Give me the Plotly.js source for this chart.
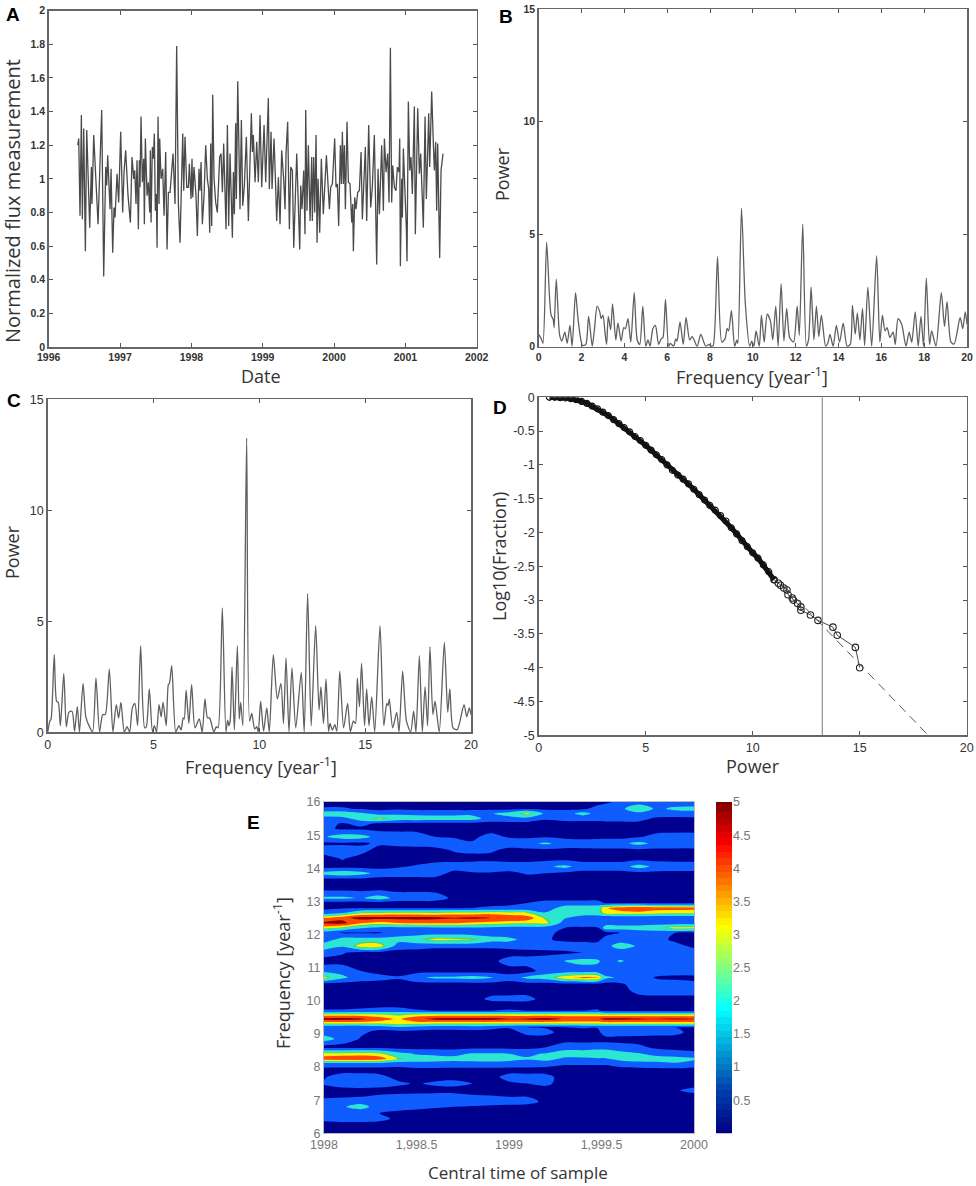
<!DOCTYPE html>
<html>
<head>
<meta charset="utf-8">
<script src="https://cdn.plot.ly/plotly-3.0.1.min.js"></script>
<style>body{margin:0;background:#fff}</style>
</head>
<body>
<div id="chart" style="width:976px;height:1186px"></div>
<script>
// Panel A: flux time series
const fluxDates = [1996.407,1996.421,1996.439,1996.458,1996.472,1996.491,1996.514,1996.533,1996.575,1996.598,1996.607,1996.631,1996.692,1996.743,1996.771,1996.799,1996.813,1996.827,1996.860,1996.874,1996.897,1996.916,1996.930,1996.958,1996.981,
  1997.009,1997.037,1997.056,1997.079,1997.112,1997.145,1997.168,1997.192,1997.206,1997.224,1997.238,1997.257,1997.271,1997.280,1997.294,1997.313,1997.332,1997.341,1997.355,1997.379,1997.397,1997.416,1997.425,1997.435,1997.453,1997.467,1997.481,1997.495,1997.509,1997.519,1997.533,1997.547,1997.556,1997.575,1997.598,1997.617,1997.640,1997.659,1997.678,1997.701,1997.743,1997.771,1997.794,1997.818,1997.841,1997.879,1997.893,1997.911,1997.935,1997.958,1997.972,1997.995,
  1998.009,1998.019,1998.037,1998.065,1998.084,1998.107,1998.121,1998.136,1998.154,1998.178,1998.201,1998.224,1998.243,1998.257,1998.271,1998.285,1998.299,1998.318,1998.341,1998.364,1998.397,1998.416,1998.435,1998.453,1998.467,1998.486,1998.505,1998.523,1998.542,1998.575,1998.589,1998.603,1998.621,1998.631,1998.650,1998.664,1998.682,1998.701,1998.720,1998.743,1998.771,1998.799,1998.822,1998.841,1998.855,1998.869,1998.893,1998.916,1998.939,1998.963,1998.986,
  1999.019,1999.042,1999.079,1999.093,1999.117,1999.131,1999.159,1999.178,1999.196,1999.220,1999.243,1999.266,1999.294,1999.313,1999.327,1999.350,1999.374,1999.393,1999.416,1999.435,1999.477,1999.519,1999.533,1999.551,1999.575,1999.593,1999.603,1999.621,1999.640,1999.664,1999.687,1999.696,1999.715,1999.729,1999.748,1999.762,1999.776,1999.799,1999.822,1999.850,1999.893,1999.935,1999.953,1999.977,
  2000.009,2000.028,2000.047,2000.065,2000.089,2000.103,2000.117,2000.131,2000.145,2000.159,2000.182,2000.201,2000.224,2000.248,2000.262,2000.271,2000.290,2000.308,2000.332,2000.355,2000.379,2000.397,2000.439,2000.458,2000.486,2000.514,2000.537,2000.565,2000.598,2000.617,2000.636,2000.668,2000.692,2000.706,2000.729,2000.752,2000.771,2000.790,2000.808,2000.822,2000.846,2000.869,2000.888,2000.911,2000.921,2000.930,2000.949,2000.958,2000.972,
  2001.014,2001.023,2001.042,2001.061,2001.079,2001.098,2001.126,2001.140,2001.173,2001.196,2001.215,2001.252,2001.276,2001.294,2001.313,2001.327,2001.341,2001.369,2001.393,2001.407,2001.425,2001.439,2001.453,2001.467,2001.481,2001.500,2001.528];
const fluxValues = [1.20,1.24,0.78,1.38,0.76,1.30,0.57,1.29,0.71,1.07,0.85,1.26,0.73,1.41,0.42,1.07,0.96,1.14,0.82,1.06,0.56,0.83,0.77,1.03,0.86,
  1.28,0.80,1.04,1.17,0.90,0.74,1.13,1.00,1.05,0.85,1.11,0.70,1.11,0.95,1.37,0.98,1.12,0.73,1.24,0.90,0.98,0.80,1.17,0.74,1.19,1.12,1.27,0.81,0.91,0.59,1.37,0.85,1.24,1.00,1.06,0.78,1.16,0.58,0.92,0.92,1.15,0.85,1.79,0.85,0.62,1.27,0.93,1.25,0.95,0.95,1.09,0.88,
  1.12,0.89,1.07,0.90,0.66,1.06,0.93,1.10,0.73,0.90,1.20,1.00,0.94,0.68,1.21,0.72,1.50,1.00,0.86,0.80,1.13,1.15,0.92,1.21,1.04,0.70,1.32,0.72,1.15,0.65,1.04,0.79,1.33,0.88,1.58,1.20,0.82,1.35,0.84,0.96,1.25,0.75,1.05,1.39,1.16,1.26,0.98,1.22,0.98,1.38,0.95,
  1.32,0.98,1.48,0.94,1.28,0.94,1.24,1.00,0.75,1.01,0.73,1.17,1.00,0.82,1.15,1.34,0.70,1.07,1.05,0.59,1.15,0.58,0.96,0.82,1.05,0.67,1.41,0.81,1.20,0.75,1.13,0.75,1.13,0.80,1.26,0.62,1.00,0.68,1.12,0.79,1.14,0.82,0.95,0.97,
  1.24,0.95,0.97,0.72,1.20,0.97,1.28,0.97,1.20,0.82,1.34,0.98,0.97,0.74,0.85,0.57,0.89,0.82,0.92,0.93,1.16,0.76,1.19,0.75,1.32,0.83,0.95,1.26,0.49,1.06,0.79,1.20,0.81,1.24,1.04,1.15,0.86,1.78,0.86,1.08,0.95,0.93,1.07,1.04,1.24,0.48,1.00,0.77,1.18,
  0.70,0.51,1.46,1.05,1.13,0.91,1.43,0.67,1.42,1.03,1.15,0.71,1.37,0.88,1.16,1.39,1.07,1.52,1.20,1.05,1.22,0.81,1.21,0.80,0.53,1.05,1.15];

// Panel B: periodogram, first series
const freqB = [0,0.12,0.2,0.37,0.5,0.58,0.68,0.72,0.82,0.98,1.08,1.22,1.33,1.46,1.56,1.72,1.82,1.95,2.05,2.2,2.33,2.5,2.6,2.73,2.85,2.92,3.0,3.1,3.17,3.25,3.36,3.45,3.6,3.7,3.85,3.97,4.05,4.17,4.3,4.46,4.6,4.72,4.86,5.0,5.1,5.2,5.33,5.45,5.6,5.72,5.8,5.92,6.07,6.15,6.3,6.4,6.46,6.6,6.75,6.88,7.05,7.17,7.4,7.57,7.8,7.95,8.07,8.15,8.35,8.55,8.7,8.8,8.87,9.0,9.15,9.25,9.3,9.47,9.65,9.85,9.95,10.05,10.15,10.3,10.4,10.53,10.67,10.82,10.93,11.07,11.18,11.32,11.45,11.58,11.72,11.9,12.07,12.17,12.33,12.5,12.6,12.72,12.85,12.97,13.08,13.2,13.4,13.5,13.6,13.75,13.9,14.05,14.22,14.4,14.55,14.65,14.78,14.88,15.0,15.12,15.22,15.37,15.55,15.78,15.93,16.05,16.17,16.27,16.4,16.55,16.65,16.78,16.95,17.15,17.3,17.42,17.58,17.72,17.85,17.97,18.1,18.25,18.35,18.55,18.8,18.95,19.07,19.25,19.4,19.68,19.8,19.92,20];
const powerB = [0.55,0.35,0.15,4.65,2.3,1.4,1.2,0.85,3.0,0.5,0.25,0.65,0.15,0.95,0.02,2.4,1.4,0.4,0.05,0.1,1.35,0.02,0.75,1.8,1.55,1.25,1.4,0.6,0.1,1.35,0.75,1.9,0.3,1.05,0.25,0.85,0.8,1.25,0.2,2.4,0.3,0.1,1.8,0.02,0.3,0.02,0.8,0.95,0.1,0.35,0.4,2.1,0.02,0.15,0.02,0.35,0.25,1.1,0.1,1.3,0.3,0.45,0.02,0.55,0.02,0.1,0.02,0.05,4.0,0.2,0.35,0.8,0.7,1.6,0.02,0.3,0.15,6.15,1.9,0.02,0.25,0.02,0.7,0.02,1.4,0.2,1.45,1.15,0.3,1.8,0.02,2.8,0.25,1.7,0.4,0.2,1.8,0.5,5.45,0.02,0.3,2.65,0.3,1.8,0.45,1.4,0.02,0.15,0.55,0.02,0.95,0.2,1.05,0.02,0.1,1.85,0.55,1.5,0.3,1.7,0.05,2.65,0.02,4.05,0.2,1.4,0.7,0.85,0.4,0.65,0.1,1.25,1.0,0.02,0.65,0.2,1.55,0.02,1.35,0.02,3.05,0.1,0.7,0.02,2.4,0.9,2.0,0.2,0.12,1.3,0.8,1.55,1.0];

// Panel C: periodogram, second series
const freqC = [0,0.1,0.16,0.31,0.42,0.5,0.6,0.76,0.88,1.0,1.15,1.27,1.40,1.5,1.67,1.8,1.95,2.12,2.28,2.45,2.6,2.72,2.91,3.08,3.24,3.35,3.46,3.62,3.75,3.87,4.0,4.12,4.25,4.39,4.58,4.66,4.80,4.95,5.04,5.14,5.26,5.36,5.45,5.6,5.70,5.75,5.86,6.05,6.2,6.3,6.4,6.45,6.54,6.67,6.80,6.96,7.16,7.3,7.43,7.55,7.65,7.85,7.97,8.05,8.25,8.42,8.5,8.56,8.62,8.71,8.82,8.96,9.05,9.12,9.22,9.40,9.54,9.64,9.78,9.88,9.95,10.06,10.2,10.35,10.47,10.66,10.85,11.02,11.14,11.26,11.4,11.54,11.72,11.98,12.12,12.28,12.45,12.66,12.82,12.91,13.03,13.15,13.27,13.34,13.45,13.57,13.66,13.80,13.98,14.17,14.3,14.44,14.54,14.63,14.73,14.83,14.97,15.07,15.18,15.31,15.45,15.70,15.88,16.02,16.08,16.14,16.3,16.49,16.6,16.77,16.95,17.15,17.29,17.4,17.56,17.7,17.83,17.95,18.06,18.2,18.30,18.5,18.74,18.9,19.0,19.15,19.35,19.67,19.8,19.92,20];
const powerC = [0,0.5,0.6,3.5,1.4,1.35,0.3,2.65,0.25,0.9,0.95,0.05,1.15,0.02,2.2,0.7,0.3,0.02,2.45,0.02,0.8,0.8,2.85,0.02,1.25,0.65,1.35,0.02,0.25,0.02,1.1,1.3,0.3,3.9,0.2,0.25,1.95,0.02,0.3,0.02,1.25,0.7,1.35,0.3,2.15,2.2,3.0,0.02,0.3,0.1,0.65,0.6,1.9,0.4,2.15,0.2,0.6,0.02,1.5,0.65,0.65,0.02,0.25,0.2,5.6,0.02,0.55,0.3,0.5,2.95,0.1,3.9,0.6,1.35,0.3,13.25,0.5,0.85,0.15,0.25,0.02,1.4,0.05,1.1,0.02,3.5,1.5,2.2,0.4,3.35,0.02,2.9,0.2,2.7,0.02,6.25,0.3,4.8,1.0,2.05,0.4,2.4,0.05,0.4,0.1,0.35,0.05,2.75,0.2,1.3,0.02,0.5,0.4,2.45,1.15,3.1,0.3,1.95,0.3,1.6,0.02,4.8,0.3,1.3,1.2,1.5,0.2,0.9,0.02,2.75,0.5,0.02,0.95,0.02,3.45,0.02,2.05,0.3,3.85,0.8,1.4,0.02,4.05,0.9,1.95,0.2,0.12,1.25,0.7,1.1,0.8];

// Panel D: sorted power against log fraction
const rankPower = [0.5,0.75,1,1.25,1.5,1.75,2,2.25,2.5,2.75,3,3.25,3.5,3.75,4,4.25,4.5,4.75,5,5.25,5.5,5.75,6,6.25,6.5,6.75,7,7.25,7.5,7.75,8,8.25,8.5,8.75,9,9.25,9.5,9.75,10,10.25,10.5,10.75,11];
const rankLog = [0,0,-0.005,-0.01,-0.02,-0.035,-0.06,-0.09,-0.13,-0.17,-0.22,-0.27,-0.33,-0.39,-0.45,-0.51,-0.58,-0.64,-0.71,-0.78,-0.85,-0.92,-1.0,-1.08,-1.15,-1.21,-1.28,-1.36,-1.44,-1.52,-1.6,-1.67,-1.75,-1.83,-1.93,-2.02,-2.12,-2.21,-2.3,-2.38,-2.48,-2.58,-2.7];
const tailPower = [11,11.2,11.3,11.45,11.6,11.65,11.85,11.9,12.1,12.25,12.25,12.7,13.05,13.75,13.95,14.8,15];
const tailLog = [-2.7,-2.75,-2.78,-2.82,-2.85,-2.92,-2.97,-3.0,-3.05,-3.1,-3.15,-3.22,-3.3,-3.4,-3.52,-3.7,-4.0];
const fitPower = [11.5,18.2];
const fitLog = [-2.8,-5];
const cutoffPower = [13.25,13.25];
const cutoffLog = [0,-5];
const logTicks = [0,-0.5,-1,-1.5,-2,-2.5,-3,-3.5,-4,-4.5,-5];
const logLabels = ['0','-0.5','-1','-1.5','-2','-2.5','-3','-3.5','-4','-4.5','-5'];

// Panel E: sliding window spectrum, one row per frequency
const sampleTimes = [1998,1998.1,1998.2,1998.3,1998.4,1998.5,1998.6,1998.7,1998.8,1998.9,1999,1999.1,1999.2,1999.3,1999.4,1999.48,1999.52,1999.6,1999.7,1999.8,1999.9,2000];
const sampleFreqs = [6,6.3,6.45,6.6,6.8,6.95,7.1,7.3,7.5,7.7,7.9,8.1,8.25,8.4,8.6,8.85,9.05,9.2,9.32,9.45,9.58,9.7,9.9,10.05,10.3,10.5,10.7,10.9,11.2,11.45,11.65,11.85,12.05,12.2,12.35,12.5,12.65,12.8,12.95,13.1,13.4,13.65,13.85,14.05,14.3,14.55,14.75,14.95,15.2,15.35,15.5,15.65,15.8,16];
const samplePower = [
  [.1,.1,.1,.1,.1,.1,.1,.1,.1,.1,.1,.1,.1,.1,.1,.1,.1,.1,.1,.1,.1,.1],
  [.2,.3,.3,.2,.1,.1,.1,.1,.1,.1,.1,.1,.1,.1,.1,.1,.1,.1,.1,.1,.1,.1],
  [.9,1,1,.9,.2,.1,.1,.1,.1,.1,.1,.1,.1,.1,.1,.1,.1,.1,.1,.1,.1,.1],
  [.7,.8,.8,.5,.3,.2,.1,.1,.1,.1,.1,.1,.1,.1,.1,.1,.1,.1,.1,.1,.1,.1],
  [1.1,1.4,1.9,1,.8,.7,.6,.5,.4,.3,.2,.2,.1,.1,.1,.1,.1,.1,.1,.1,.1,.1],
  [1,1.1,1.2,1.2,1.1,1.1,1,1,1,.9,.9,.8,.3,.1,.1,.1,.1,.1,.1,.1,.1,.1],
  [.3,.4,.5,.7,.8,.9,1,1,.7,.6,.5,.5,.1,.1,.1,.1,.1,.1,.1,.1,.1,.1],
  [.1,.1,.1,.1,.1,.1,.1,.1,.1,.1,.1,.1,.1,.1,.1,.1,.1,.1,.1,.1,.4,.8],
  [.6,1.1,1.3,1.1,.7,.4,.7,.8,.5,.2,.3,.5,.7,.1,.1,.1,.1,.1,.1,.1,.1,.1],
  [.4,1,1,.8,.2,.1,.1,.2,.1,.1,.9,.9,.8,.1,.1,.1,.1,.1,.1,.1,.1,.1],
  [.1,.1,.1,.1,.1,.1,.1,.1,.1,.1,.1,.1,.1,.1,.1,.1,.1,.1,.1,.1,.1,.1],
  [1,1,1,1,.9,1.2,1.2,1.1,1.1,1.1,1,1,.9,.6,.6,.6,.6,.9,1.1,1.2,1.4,1],
  [4,4.2,4.3,4,2.7,2,1.9,1.8,1.9,2,1.9,1.6,1.9,1.3,1.3,1.4,1.4,1.8,2,2,1.9,1.7],
  [3,3,3.1,2.9,1.9,1.4,1.3,1.2,1.6,1.6,1.5,1.3,1.6,2.1,2.1,2.2,2.2,1.9,1.6,1.1,.9,.7],
  [.1,.1,.1,.1,.1,.1,.1,.1,.2,.2,.2,.2,.5,1,1,1.1,1.1,.9,.7,.3,.2,.2],
  [2,1.1,.4,.1,.1,.1,.1,.1,.1,.1,.1,.1,.1,.1,.1,.1,.1,.1,.1,.1,.1,.1],
  [1,.9,.7,.2,.1,.1,.1,.1,.1,.1,.1,.8,.8,.1,.1,.2,1.1,1.1,1,.9,.8,.1],
  [.5,.5,.5,.9,1.4,1.2,.9,.9,1,.8,.6,.5,.4,.5,.6,.6,.5,.5,.5,.5,.5,.5],
  [2.9,2.9,2.9,2.9,3.2,3,2.8,2.8,2.8,2.8,2.8,2.8,2.8,2.8,2.8,2.9,3,3,3,3,3,3],
  [4.9,4.9,4.7,4,3.3,4.3,4.8,4.9,4.9,4.9,4.6,4.7,4.9,4.4,4.4,4.4,4.8,4.8,4.7,4.6,4.7,4.6],
  [3,3,3,2.9,2.6,2.9,3,3,3,3,3,3,3,3,3,3,2.8,2.8,2.8,2.8,2.8,2.8],
  [.6,.6,.7,.9,.9,.6,.5,.5,.5,.5,.6,.5,.5,.5,.5,.6,.3,.3,.3,.3,.3,.3],
  [.1,.1,.1,.1,.1,.1,.1,.1,.1,.1,.1,.1,.1,.1,.1,.1,.1,.1,.1,.1,.1,.1],
  [.1,.1,.1,.1,.1,.1,.1,.1,.1,.7,.8,.8,.1,.1,.1,.1,.1,.1,.1,.1,.1,.1],
  [.1,.1,.1,.1,.1,.1,.1,.1,.1,.1,.1,.1,.1,.1,.1,.1,.1,.1,.8,1,1,1],
  [.1,.1,.1,.1,.1,.1,.1,.1,.1,.1,.1,.1,.1,.1,.1,.1,.1,.3,1,.9,.9,.7],
  [3,1.7,1,.8,.6,1.3,1.7,1.7,1.9,1.6,.9,1.8,2,3.3,3.7,3.6,1.8,1.3,.9,.4,.3,.3],
  [1.2,1.2,.5,.2,.1,.1,.1,.1,.1,.1,.1,.1,1,1,1,.9,.7,.7,1,.9,.9,.9],
  [.1,.1,.1,.1,.1,.1,.1,.1,.1,.2,.9,1,1.1,1.5,1.8,1.7,1,1.6,1.1,.6,.5,1],
  [1,.6,.1,.1,.1,.1,.1,.1,.1,.1,.1,.1,.2,.3,.5,.5,.5,1,1,1,1,1],
  [2.1,1.6,3.2,3.2,1,.9,.7,.7,.7,.7,.8,1,1,1,1,1,1.2,1.9,1.4,1,.8,.3],
  [.9,1.9,1.9,1.9,1.9,2.3,3,2.9,2.8,1.9,1.8,1.1,.6,.3,.2,.2,.9,1.1,1,.8,.3,.2],
  [.9,.4,.4,.4,1,1,1,1,.9,1,.8,.7,.6,.4,.3,.2,.1,.5,.9,.9,.5,.3],
  [3,2.4,1.6,1.2,1.2,1.2,1.3,1.3,1.3,1.2,1.1,1.1,.9,.5,.4,.4,2,2,2,2.3,3,3],
  [4.7,4.8,3.6,3.2,3.5,3.6,3.6,3.6,3.4,3.2,3,2.9,3,1,.9,1,1,1,1,1,1,1],
  [3.5,4.2,4.9,4.9,4.9,4.9,4.8,4.6,4.7,4.5,4.3,4,2.5,1.6,.9,.9,.6,.6,.6,.5,.5,.5],
  [.9,1.5,2.6,2.8,2.9,2.9,2.8,3,3,3.2,3,2.8,1.6,2.2,2.1,2.1,3,3.2,3.2,3,2.9,2.9],
  [.3,.4,.4,.4,.4,.4,.4,.4,.5,.6,.7,.7,.9,2,2.1,2.1,3.4,3.9,4.4,3.9,3.9,3.8],
  [.1,.1,.1,.1,.1,.1,.1,.1,.1,.3,.3,.5,.9,.9,.9,.9,.4,.4,.4,.3,.3,.3],
  [1.7,1.7,1.4,2,1.1,1.1,1,.3,.1,.1,.1,.1,.1,.1,.1,.1,.1,.1,.1,.1,.1,.1],
  [.1,.1,.1,.1,.1,.1,.1,.1,.1,.1,.1,.1,.1,.1,.1,.1,.1,.1,.1,.1,.1,.1],
  [.1,.1,.1,.1,.1,.1,.1,.1,.1,.1,.1,.1,.1,.1,.1,.1,.1,.1,.1,.1,.1,.1],
  [1.9,2.2,1.9,1.1,1,1,1,.2,.4,.4,.3,.6,.5,.3,.2,.2,.2,.2,.2,.2,.2,.2],
  [.1,.1,.1,.2,.4,.6,.9,1,1.1,1.2,1,1,1.3,1.8,1,1,1,1,1.9,1.2,1.1,1.1],
  [.1,.6,.1,.1,.1,.1,.1,.1,.1,.1,.1,.1,.1,.1,.1,.1,.1,.1,.1,.1,.1,.1],
  [1,1.1,.9,.1,.1,.1,.1,.6,.8,.7,.2,.3,.3,.3,.3,.3,.3,.3,.3,.3,.3,.3],
  [.3,.3,.3,.7,.8,.9,1.1,1,.6,1,1.1,1.2,1.7,1,1,1.1,1.2,1.2,1.8,1.2,1.1,1.1],
  [1.4,2,1.9,1.1,1,.9,.5,.4,.3,.8,.4,.3,.4,.3,.2,.2,.2,.2,.4,.8,.9,.9],
  [.8,.3,.3,.2,.2,.2,.1,.1,.1,.1,.1,.1,.1,.1,.1,.1,.1,.1,.1,.1,.1,.1],
  [.9,.4,.8,.3,.3,.2,.2,.2,.2,.2,.2,.2,.2,.2,.2,.2,.2,.2,.2,.2,.2,.2],
  [1.1,1.2,2,2.9,2.1,2.1,2,2,2,1,1.1,1.1,.6,.8,.8,.8,.9,.9,.9,.3,.3,.3],
  [2.1,2.2,1.7,1.1,1.3,1.2,1.2,1.2,1.2,1.4,2,3,1.2,1,1.9,1.1,1.1,1.1,1.1,1.1,.9,1],
  [.6,.6,.4,.2,.3,.2,.2,.2,.2,.2,.2,.3,.3,.3,.3,.9,1.1,1.1,2.6,1.2,1.8,1.9],
  [.1,.1,.1,.1,.1,.1,.1,.1,.1,.1,.1,.1,.1,.1,.1,.1,.3,.7,.8,.7,.7,.7]
];
const barLevels = [0,.1,.2,.3,.4,.5,.6,.7,.8,.9,1,1.1,1.2,1.3,1.4,1.5,1.6,1.7,1.8,1.9,2,2.1,2.2,2.3,2.4,2.5,2.6,2.7,2.8,2.9,3,3.1,3.2,3.3,3.4,3.5,3.6,3.7,3.8,3.9,4,4.1,4.2,4.3,4.4,4.5,4.6,4.7,4.8,4.9,5];
const barTicks = [0.5,1,1.5,2,2.5,3,3.5,4,4.5,5];

const W = 976, H = 1186;
const SANS = '"Liberation Sans", Arial, sans-serif';
const TITLE_FONT = '"Open Sans", sans-serif';

// pixel box to paper domain
const domX = (a, b) => [a / W, b / W];
const domY = (top, bottom) => [1 - bottom / H, 1 - top / H];

function frameAxis(domain, range, dtick, font) {
    return {
        domain, range, dtick, tick0: 0,
        ticks: 'inside', ticklen: 4, tickwidth: 1, tickcolor: '#555',
        mirror: 'ticks', showline: true, linecolor: '#666', linewidth: 1.5,
        showgrid: false, zeroline: false, tickfont: font, fixedrange: true
    };
}

const smallBold = {family: SANS, size: 10.5, color: '#333', weight: 700};
const medium = {family: SANS, size: 12.5, color: '#333'};
const greyTick = {family: SANS, size: 12.5, color: '#777'};

function lineTrace(x, y, ax, ay, color, width) {
    return {x, y, xaxis: ax, yaxis: ay, type: 'scatter', mode: 'lines', line: {color, width}, hoverinfo: 'skip'};
}
function peakTrace(x, y, ax, ay) {
    const t = lineTrace(x, y, ax, ay, '#606060', 1.3);
    t.line.shape = 'spline';
    t.line.smoothing = 0.7;
    return t;
}

// discrete contour bands, fractions follow the contour levels below
const bandScale = [
    [0, '#00008f'], [0.0278, '#00008f'], [0.0278, '#0f5cff'], [0.25, '#0f5cff'],
    [0.25, '#2ce6d2'], [0.472, '#2ce6d2'], [0.472, '#55d060'], [0.528, '#55d060'],
    [0.528, '#fff000'], [0.694, '#fff000'], [0.694, '#ff4a00'], [0.917, '#ff4a00'],
    [0.917, '#8c0000'], [1, '#8c0000']
];

const traces = [
    lineTrace(fluxDates, fluxValues, 'x', 'y', '#4a4a4a', 1.3),
    peakTrace(freqB, powerB, 'x2', 'y2'),
    peakTrace(freqC, powerC, 'x3', 'y3'),
    lineTrace(rankPower, rankLog, 'x4', 'y4', '#111', 5),
    {x: rankPower, y: rankLog, xaxis: 'x4', yaxis: 'y4', type: 'scatter', mode: 'markers',
     marker: {symbol: 'circle-open', size: 6, color: '#111', line: {width: 1.2}}, hoverinfo: 'skip'},
    {x: tailPower, y: tailLog, xaxis: 'x4', yaxis: 'y4', type: 'scatter', mode: 'lines+markers',
     line: {color: '#333', width: 0.9},
     marker: {symbol: 'circle-open', size: 6.5, color: '#222', line: {width: 1.1}}, hoverinfo: 'skip'},
    {x: fitPower, y: fitLog, xaxis: 'x4', yaxis: 'y4', type: 'scatter', mode: 'lines',
     line: {color: '#555', width: 1, dash: '9px,6px'}, hoverinfo: 'skip'},
    lineTrace(cutoffPower, cutoffLog, 'x4', 'y4', '#777', 1),
    {x: sampleTimes, y: sampleFreqs, z: samplePower, xaxis: 'x5', yaxis: 'y5', type: 'contour',
     autocontour: false, contours: {start: 0.5, end: 4.75, size: 0.25, coloring: 'fill', showlines: false},
     line: {width: 0, smoothing: 1}, colorscale: bandScale, showscale: false, hoverinfo: 'skip'},
    {x: [0], y: barLevels, z: barLevels.map(v => [v]), xaxis: 'x6', yaxis: 'y6', type: 'heatmap',
     colorscale: 'Jet', zmin: 0, zmax: 5, showscale: false, hoverinfo: 'skip'}
];

const layout = {
    width: W, height: H, margin: {l: 0, r: 0, t: 0, b: 0},
    paper_bgcolor: '#fff', plot_bgcolor: '#fff', showlegend: false,
    xaxis: frameAxis(domX(48.7, 476.7), [1996, 2002], 1, smallBold),
    yaxis: frameAxis(domY(10.7, 347), [0, 2], 0.2, smallBold),
    xaxis2: frameAxis(domX(538.7, 967), [0, 20], 2, smallBold),
    yaxis2: frameAxis(domY(9.3, 346.7), [0, 15], 5, smallBold),
    xaxis3: frameAxis(domX(47.7, 471), [0, 20], 5, medium),
    yaxis3: frameAxis(domY(399.3, 732.3), [0, 15], 5, medium),
    xaxis4: frameAxis(domX(538.7, 966.7), [0, 20], 5, medium),
    yaxis4: Object.assign(frameAxis(domY(397.3, 735.3), [-5, 0], 0.5, medium),
        {tickmode: 'array', tickvals: logTicks, ticktext: logLabels}),
    xaxis5: Object.assign(frameAxis(domX(324, 694), [1998, 2000], 0.5, greyTick),
        {ticks: '', linecolor: '#bbb', linewidth: 1, tick0: 1998}),
    yaxis5: Object.assign(frameAxis(domY(802, 1133.3), [6, 16], 1, greyTick),
        {ticks: '', linecolor: '#bbb', linewidth: 1}),
    xaxis6: {domain: domX(716, 732), range: [-0.5, 0.5], visible: false, fixedrange: true},
    yaxis6: {domain: domY(802, 1133.3), range: [0, 5], anchor: 'x6', side: 'right',
        tickmode: 'array', tickvals: barTicks, ticktext: barTicks.map(String),
        ticks: '', showline: false, showgrid: false, zeroline: false, tickfont: greyTick, fixedrange: true},
    annotations: []
};
// every subplot keeps its own axis pair
['', '2', '3', '4', '5'].forEach(n => {
    layout['xaxis' + n].anchor = 'y' + n;
    layout['yaxis' + n].anchor = 'x' + n;
});

function note(text, x, y, size, opts) {
    layout.annotations.push(Object.assign({
        text, x: x / W, y: 1 - y / H, xref: 'paper', yref: 'paper',
        showarrow: false, xanchor: 'center', yanchor: 'middle',
        font: {family: TITLE_FONT, size, color: '#333'}
    }, opts || {}));
}
const panelLetter = {family: SANS, size: 19, color: '#000', weight: 700};

note('A', 13, 14, 19, {font: panelLetter});
note('B', 506, 17, 19, {font: panelLetter});
note('C', 14, 401, 19, {font: panelLetter});
note('D', 500, 408, 19, {font: panelLetter});
note('E', 254, 822, 19, {font: panelLetter});

note('Date', 261, 376, 18);
note('Frequency [year<sup>-1</sup>]', 752, 376, 18);
note('Frequency [year<sup>-1</sup>]', 261, 766, 18);
note('Power', 753, 766, 18);
note('Central time of sample', 518, 1172, 17);

note('Normalized flux measurement', 12, 201, 20, {textangle: -90});
note('Power', 502, 174, 18, {textangle: -90});
note('Power', 12, 552, 18, {textangle: -90});
note('Log10(Fraction)', 499, 557, 18, {textangle: -90});
note('Frequency [year<sup>-1</sup>]', 282, 973, 18, {textangle: -90});

Plotly.newPlot('chart', traces, layout, {staticPlot: true, displayModeBar: false});
</script>
</body>
</html>
